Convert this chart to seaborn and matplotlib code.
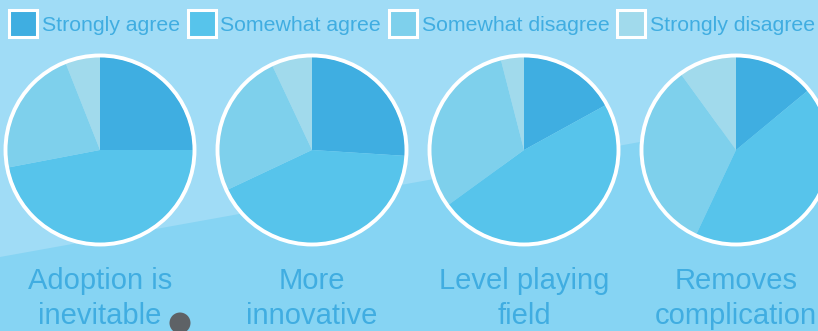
import matplotlib
matplotlib.use("Agg")
import matplotlib.pyplot as plt
from matplotlib.patches import Circle, Polygon, Patch
import seaborn as sns

# ---- Data (percent of respondents) ----
categories = ["Strongly agree", "Somewhat agree", "Somewhat disagree", "Strongly disagree"]
statements = ["Adoption is\ninevitable", "More\ninnovative", "Level playing\nfield", "Removes\ncomplication"]
strongly_agree = [25, 26, 17, 14]
somewhat_agree = [47, 42, 48, 43]
somewhat_disagree = [22, 25, 31, 33]
strongly_disagree = [6, 7, 4, 10]


def main():
    sns.set_theme(style="white")
    plt.rcParams["font.family"] = ["Liberation Sans", "DejaVu Sans"]

    palette = ["#3FAEE1", "#57C4EB", "#7ED0EC", "#A1DAEC"]
    text_color = "#40ADE1"
    W, H = 818, 331

    fig = plt.figure(figsize=(W / 100, H / 100), dpi=100)
    fig.patch.set_facecolor("#86D4F3")
    ax = fig.add_axes([0, 0, 1, 1])

    # lighter diagonal band behind the top part
    ax.add_patch(Polygon([(0, H), (W, H), (W, H - 110), (0, H - 257)],
                         closed=True, facecolor="#A0DCF6", edgecolor="none", zorder=0))

    radius = 93
    cy = H - 150
    for i, label in enumerate(statements):
        cx = 100 + 212 * i
        values = [strongly_agree[i], somewhat_agree[i],
                  somewhat_disagree[i], strongly_disagree[i]]
        ax.pie(values, colors=palette, startangle=90, counterclock=False,
               center=(cx, cy), radius=radius, frame=True,
               wedgeprops=dict(linewidth=0))
        ax.add_patch(Circle((cx, cy), radius + 1.5, facecolor="none",
                            edgecolor="white", linewidth=2.8, zorder=3))
        ax.text(cx, H - 267, label, ha="center", va="top", fontsize=21,
                color=text_color, linespacing=1.3, zorder=4)

    # grey dot near the first label
    ax.add_patch(Circle((180, H - 323), 10.5, facecolor="#5E6266",
                        edgecolor="none", zorder=5))

    ax.set_xlim(0, W)
    ax.set_ylim(0, H)
    ax.set_aspect("equal")
    ax.axis("off")

    handles = [Patch(facecolor=c, edgecolor="white", linewidth=2.2) for c in palette]
    fig.legend(handles, categories, loc="upper left",
               bbox_to_anchor=(9 / W, 1 - 10 / H), ncol=4, frameon=False,
               fontsize=15.3, handlelength=1.33, handleheight=1.6,
               handletextpad=0.22, columnspacing=0.35, borderpad=0,
               borderaxespad=0, labelcolor=text_color)

    fig.savefig("out.png", dpi=100, facecolor=fig.get_facecolor())
    plt.close(fig)


if __name__ == "__main__":
    main()
